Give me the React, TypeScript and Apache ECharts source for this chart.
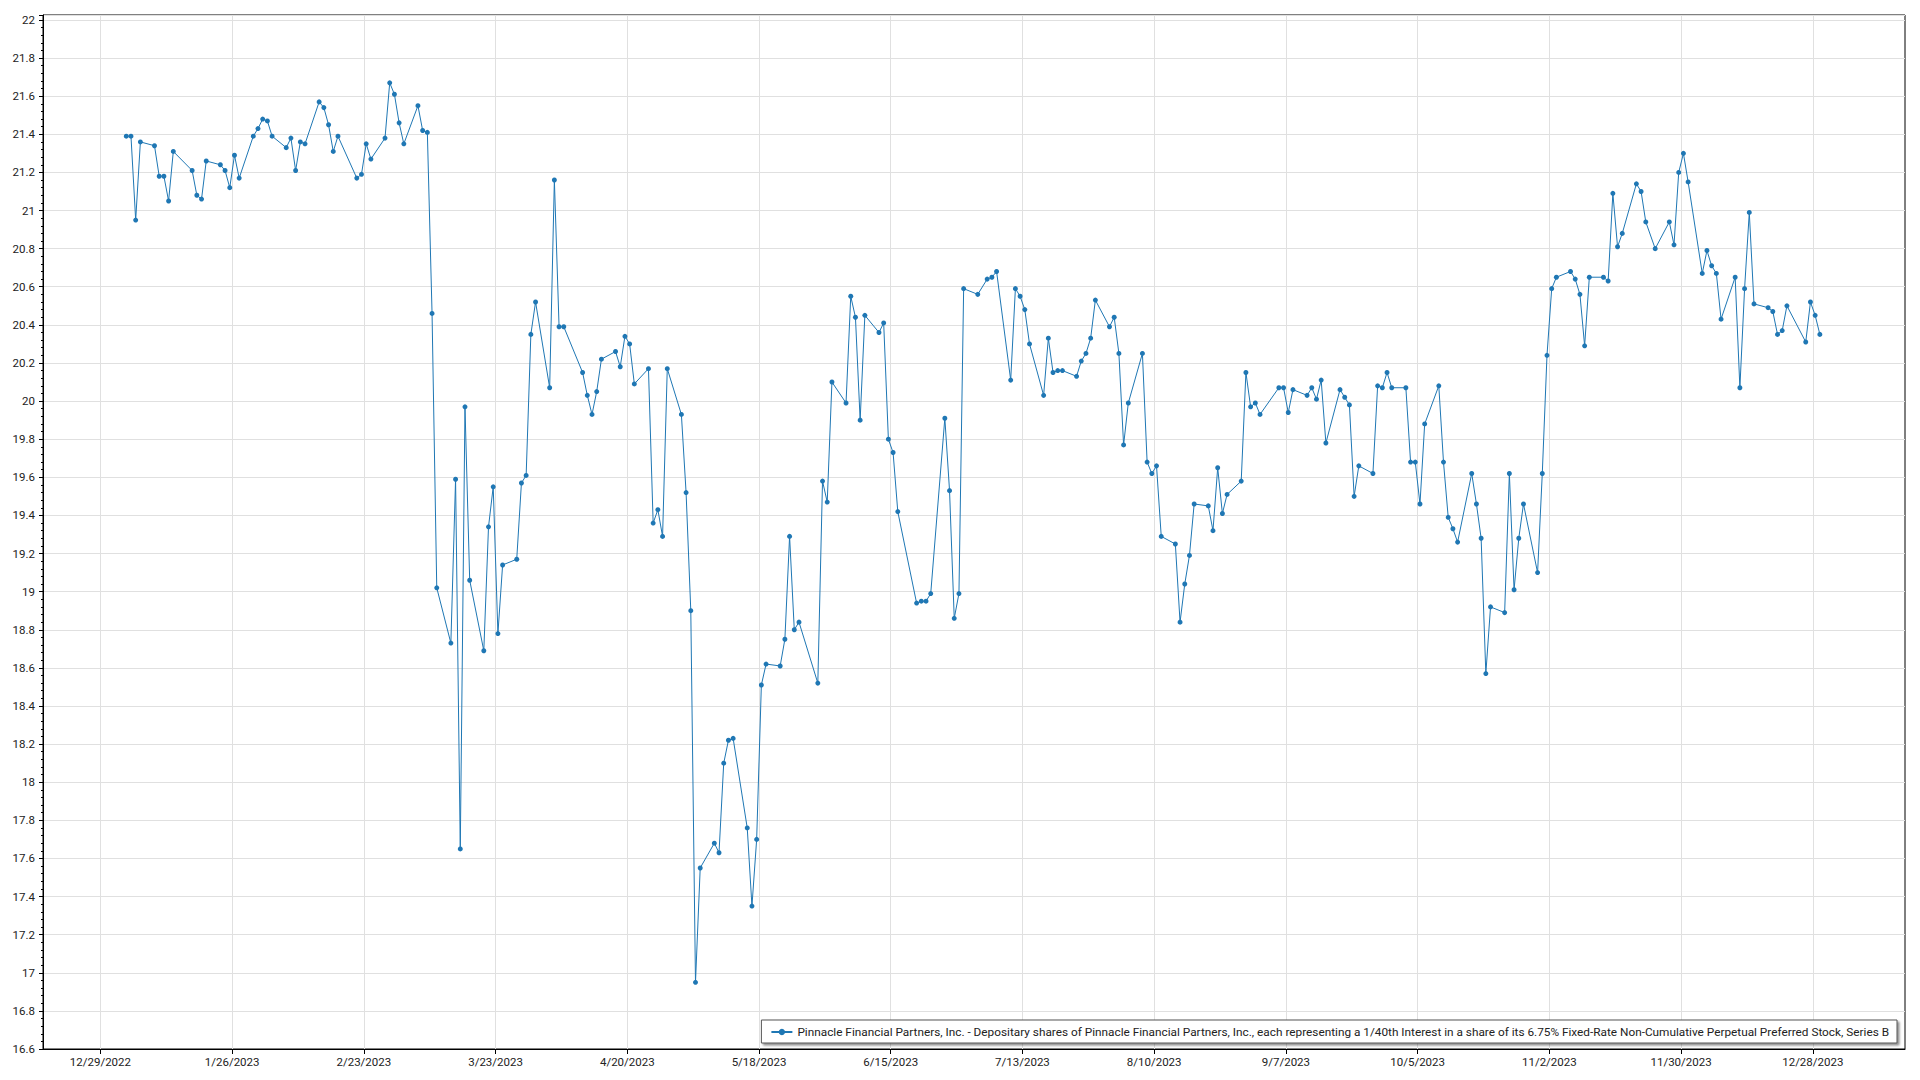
import React, { useEffect, useRef } from "react";
import * as echarts from "echarts";

const seriesName =
  "Pinnacle Financial Partners, Inc. - Depositary shares of Pinnacle Financial Partners, Inc., each representing a 1/40th Interest in a share of its 6.75% Fixed-Rate Non-Cumulative Perpetual Preferred Stock, Series B";

const xTickLabels = [
  "12/29/2022", "1/26/2023", "2/23/2023", "3/23/2023", "4/20/2023", "5/18/2023", "6/15/2023",
  "7/13/2023", "8/10/2023", "9/7/2023", "10/5/2023", "11/2/2023", "11/30/2023", "12/28/2023",
];

const yMin = 16.6;
const yMax = 22.026;
const yStep = 0.2;

const tradeDates = [
  "1/3/2023", "1/4/2023", "1/5/2023", "1/6/2023", "1/9/2023", "1/10/2023", "1/11/2023", "1/12/2023", "1/13/2023",
  "1/17/2023", "1/18/2023", "1/19/2023", "1/20/2023", "1/23/2023", "1/24/2023", "1/25/2023", "1/26/2023", "1/27/2023",
  "1/30/2023", "1/31/2023",
  "2/1/2023", "2/2/2023", "2/3/2023", "2/6/2023", "2/7/2023", "2/8/2023", "2/9/2023", "2/10/2023", "2/13/2023",
  "2/14/2023", "2/15/2023", "2/16/2023", "2/17/2023", "2/21/2023", "2/22/2023", "2/23/2023", "2/24/2023", "2/27/2023",
  "2/28/2023",
  "3/1/2023", "3/2/2023", "3/3/2023", "3/6/2023", "3/7/2023", "3/8/2023", "3/9/2023", "3/10/2023", "3/13/2023",
  "3/14/2023", "3/15/2023", "3/16/2023", "3/17/2023", "3/20/2023", "3/21/2023", "3/22/2023", "3/23/2023", "3/24/2023",
  "3/27/2023", "3/28/2023", "3/29/2023", "3/30/2023", "3/31/2023",
  "4/3/2023", "4/4/2023", "4/5/2023", "4/6/2023", "4/10/2023", "4/11/2023", "4/12/2023", "4/13/2023", "4/14/2023",
  "4/17/2023", "4/18/2023", "4/19/2023", "4/20/2023", "4/21/2023", "4/24/2023", "4/25/2023", "4/26/2023", "4/27/2023",
  "4/28/2023",
  "5/1/2023", "5/2/2023", "5/3/2023", "5/4/2023", "5/5/2023", "5/8/2023", "5/9/2023", "5/10/2023", "5/11/2023",
  "5/12/2023", "5/15/2023", "5/16/2023", "5/17/2023", "5/18/2023", "5/19/2023", "5/22/2023", "5/23/2023", "5/24/2023",
  "5/25/2023", "5/26/2023", "5/30/2023", "5/31/2023",
  "6/1/2023", "6/2/2023", "6/5/2023", "6/6/2023", "6/7/2023", "6/8/2023", "6/9/2023", "6/12/2023", "6/13/2023",
  "6/14/2023", "6/15/2023", "6/16/2023", "6/20/2023", "6/21/2023", "6/22/2023", "6/23/2023", "6/26/2023", "6/27/2023",
  "6/28/2023", "6/29/2023", "6/30/2023",
  "7/3/2023", "7/5/2023", "7/6/2023", "7/7/2023", "7/10/2023", "7/11/2023", "7/12/2023", "7/13/2023", "7/14/2023",
  "7/17/2023", "7/18/2023", "7/19/2023", "7/20/2023", "7/21/2023", "7/24/2023", "7/25/2023", "7/26/2023", "7/27/2023",
  "7/28/2023", "7/31/2023",
  "8/1/2023", "8/2/2023", "8/3/2023", "8/4/2023", "8/7/2023", "8/8/2023", "8/9/2023", "8/10/2023", "8/11/2023",
  "8/14/2023", "8/15/2023", "8/16/2023", "8/17/2023", "8/18/2023", "8/21/2023", "8/22/2023", "8/23/2023", "8/24/2023",
  "8/25/2023", "8/28/2023", "8/29/2023", "8/30/2023", "8/31/2023",
  "9/1/2023", "9/5/2023", "9/6/2023", "9/7/2023", "9/8/2023", "9/11/2023", "9/12/2023", "9/13/2023", "9/14/2023",
  "9/15/2023", "9/18/2023", "9/19/2023", "9/20/2023", "9/21/2023", "9/22/2023", "9/25/2023", "9/26/2023", "9/27/2023",
  "9/28/2023", "9/29/2023",
  "10/2/2023", "10/3/2023", "10/4/2023", "10/5/2023", "10/6/2023", "10/9/2023", "10/10/2023", "10/11/2023", "10/12/2023",
  "10/13/2023", "10/16/2023", "10/17/2023", "10/18/2023", "10/19/2023", "10/20/2023", "10/23/2023", "10/24/2023",
  "10/25/2023", "10/26/2023", "10/27/2023", "10/30/2023", "10/31/2023",
  "11/1/2023", "11/2/2023", "11/3/2023", "11/6/2023", "11/7/2023", "11/8/2023", "11/9/2023", "11/10/2023", "11/13/2023",
  "11/14/2023", "11/15/2023", "11/16/2023", "11/17/2023", "11/20/2023", "11/21/2023", "11/22/2023", "11/24/2023",
  "11/27/2023", "11/28/2023", "11/29/2023", "11/30/2023",
  "12/1/2023", "12/4/2023", "12/5/2023", "12/6/2023", "12/7/2023", "12/8/2023", "12/11/2023", "12/12/2023", "12/13/2023",
  "12/14/2023", "12/15/2023", "12/18/2023", "12/19/2023", "12/20/2023", "12/21/2023", "12/22/2023", "12/26/2023",
  "12/27/2023", "12/28/2023", "12/29/2023",
];

const closePrices = [
  // Jan
  21.39, 21.39, 20.95, 21.36, 21.34, 21.18, 21.18, 21.05, 21.31,
  21.21, 21.08, 21.06, 21.26, 21.24, 21.21, 21.12, 21.29, 21.17,
  21.39, 21.43,
  // Feb
  21.48, 21.47, 21.39, 21.33, 21.38, 21.21, 21.36, 21.35, 21.57,
  21.54, 21.45, 21.31, 21.39, 21.17, 21.19, 21.35, 21.27, 21.38,
  21.67,
  // Mar
  21.61, 21.46, 21.35, 21.55, 21.42, 21.41, 20.46, 19.02, 18.73,
  19.59, 17.65, 19.97, 19.06, 18.69, 19.34, 19.55, 18.78, 19.14,
  19.17, 19.57, 19.61, 20.35, 20.52,
  // Apr
  20.07, 21.16, 20.39, 20.39, 20.15, 20.03, 19.93, 20.05, 20.22,
  20.26, 20.18, 20.34, 20.30, 20.09, 20.17, 19.36, 19.43, 19.29,
  20.17,
  // May
  19.93, 19.52, 18.90, 16.95, 17.55, 17.68, 17.63, 18.10, 18.22,
  18.23, 17.76, 17.35, 17.70, 18.51, 18.62, 18.61, 18.75, 19.29,
  18.80, 18.84, 18.52, 19.58,
  // Jun
  19.47, 20.10, 19.99, 20.55, 20.44, 19.90, 20.45, 20.36, 20.41,
  19.80, 19.73, 19.42, 18.94, 18.95, 18.95, 18.99, 19.91, 19.53,
  18.86, 18.99, 20.59,
  // Jul
  20.56, 20.64, 20.65, 20.68, 20.11, 20.59, 20.55, 20.48, 20.30,
  20.03, 20.33, 20.15, 20.16, 20.16, 20.13, 20.21, 20.25, 20.33,
  20.53, 20.39,
  // Aug
  20.44, 20.25, 19.77, 19.99, 20.25, 19.68, 19.62, 19.66, 19.29,
  19.25, 18.84, 19.04, 19.19, 19.46, 19.45, 19.32, 19.65, 19.41,
  19.51, 19.58, 20.15, 19.97, 19.99,
  // Sep
  19.93, 20.07, 20.07, 19.94, 20.06, 20.03, 20.07, 20.01, 20.11,
  19.78, 20.06, 20.02, 19.98, 19.50, 19.66, 19.62, 20.08, 20.07,
  20.15, 20.07,
  // Oct
  20.07, 19.68, 19.68, 19.46, 19.88, 20.08, 19.68, 19.39, 19.33,
  19.26, 19.62, 19.46, 19.28, 18.57, 18.92, 18.89, 19.62,
  19.01, 19.28, 19.46, 19.10, 19.62,
  // Nov
  20.24, 20.59, 20.65, 20.68, 20.64, 20.56, 20.29, 20.65, 20.65,
  20.63, 21.09, 20.81, 20.88, 21.14, 21.10, 20.94, 20.80,
  20.94, 20.82, 21.20, 21.30,
  // Dec
  21.15, 20.67, 20.79, 20.71, 20.67, 20.43, 20.65, 20.07, 20.59,
  20.99, 20.51, 20.49, 20.47, 20.35, 20.37, 20.50, 20.31,
  20.52, 20.45, 20.35,
];

const ORIGIN = Date.UTC(2022, 11, 29);
const DAY_MS = 86400000;

function dayOf(s: string): number {
  const [m, d, y] = s.split("/").map(Number);
  return (Date.UTC(y, m - 1, d) - ORIGIN) / DAY_MS;
}

const tickPositions = xTickLabels.map(dayOf);
const FONT = "'Segoe UI', Roboto, 'Noto Sans', sans-serif";

export default function App() {
  const ref = useRef<HTMLDivElement>(null);

  useEffect(() => {
    if (!ref.current) return;
    const chart = echarts.init(ref.current, undefined, { renderer: "svg" });
    const data = tradeDates.map((d, i) => [dayOf(d) + 0.5, closePrices[i]]);

    chart.setOption({
      animation: false,
      backgroundColor: "#ffffff",
      grid: {
        left: 43,
        right: 15,
        top: 15,
        bottom: 31,
        show: true,
        borderColor: "#000",
        borderWidth: 1,
        backgroundColor: "transparent",
      },
      legend: {
        show: true,
        right: 23,
        bottom: 37,
        orient: "horizontal",
        backgroundColor: "#ffffff",
        borderColor: "#555",
        borderWidth: 1,
        borderRadius: 0,
        padding: [6, 8, 5, 9],
        itemWidth: 21,
        itemHeight: 8,
        itemGap: 0,
        itemTextGap: 5,
        textStyle: { fontSize: 11.8, fontFamily: FONT, color: "#222" },
        shadowColor: "rgba(0,0,0,0.45)",
        shadowOffsetX: 2,
        shadowOffsetY: 2,
        shadowBlur: 2,
        data: [seriesName],
      },
      xAxis: {
        type: "value",
        min: -12.2,
        max: 383.6,
        axisLine: { show: true, onZero: false, lineStyle: { color: "#000", width: 1 } },
        axisTick: {
          show: true,
          customValues: tickPositions,
          length: 5,
          lineStyle: { color: "#000" },
        },
        axisLabel: {
          customValues: tickPositions,
          margin: 7,
          color: "#222",
          fontSize: 11.5,
          fontFamily: FONT,
          formatter: (v: number) => {
            let best = 0;
            tickPositions.forEach((p, i) => {
              if (Math.abs(p - v) < Math.abs(tickPositions[best] - v)) best = i;
            });
            return xTickLabels[best];
          },
        },
        splitLine: { show: true, lineStyle: { color: "#e0e0e0", width: 1 } },
      },
      yAxis: {
        type: "value",
        min: yMin,
        max: yMax,
        interval: yStep,
        axisLine: { show: true, onZero: false, lineStyle: { color: "#000", width: 1 } },
        axisTick: { show: true, length: 4, lineStyle: { color: "#000" } },
        minorTick: { show: true, splitNumber: 5, length: 2, lineStyle: { color: "#000" } },
        axisLabel: {
          margin: 8,
          color: "#222",
          fontSize: 11.5,
          fontFamily: FONT,
          showMaxLabel: false,
          formatter: (v: number) => {
            const k = Math.round((v - yMin) / yStep);
            if (Math.abs(yMin + k * yStep - v) > 1e-6) return "";
            return String(parseFloat(v.toFixed(1)));
          },
        },
        splitLine: { show: true, lineStyle: { color: "#e0e0e0", width: 1 } },
      },
      series: [
        {
          name: seriesName,
          type: "line",
          data,
          symbol: "circle",
          symbolSize: 5,
          showSymbol: true,
          color: "#1f77b4",
          lineStyle: { width: 1, color: "#1f77b4" },
          itemStyle: { color: "#1f77b4", borderWidth: 0 },
        },
      ],
    });

    return () => chart.dispose();
  }, []);

  return (
    <div
      ref={ref}
      style={{ position: "fixed", left: 0, top: 0, width: 1920, height: 1080, background: "#fff" }}
    />
  );
}
